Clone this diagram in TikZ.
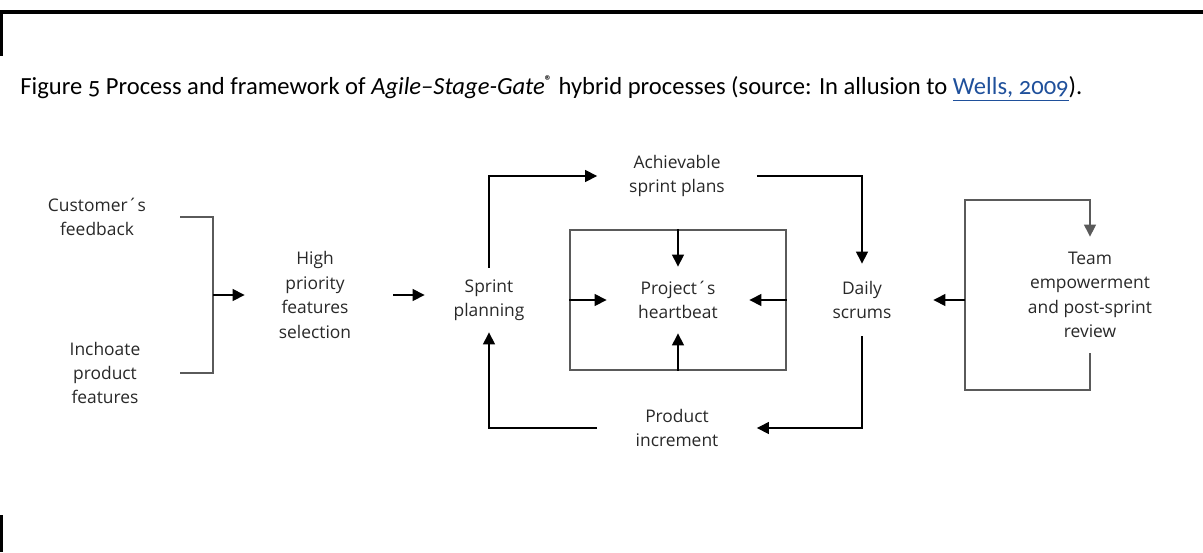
\documentclass[tikz,border=0pt]{standalone}
\usepackage{fontspec}
\setmainfont{Open Sans}
\newfontfamily\capfont[Numbers=OldStyle,Ligatures=TeX]{Carlito}
\usepackage{xcolor}
\usetikzlibrary{arrows.meta,positioning}
\definecolor{figInk}{RGB}{40,40,40}
\definecolor{figLine}{RGB}{90,90,90}
\definecolor{figLink}{RGB}{31,80,155}
\tikzset{
  figlabel/.style={font=\fontsize{8.7}{12.2}\selectfont,text=figInk,align=center,inner sep=0pt},
  figframe/.style={draw=figLine,line width=0.6pt},
  figflow/.style={-{Triangle[length=6pt,width=6pt]},draw=black,line width=0.6pt},
  figpage/.style={draw=black,line width=2pt},
}
\begin{document}
\begin{tikzpicture}[x=0.5pt,y=-0.5pt]
\useasboundingbox (0,0) rectangle (1203,552);

% Page rules.
\draw[figpage] (0,12) -- (1203,12);
\draw[figpage,line width=1.5pt] (1.5,12) -- (1.5,56);
\draw[figpage,line width=1.5pt] (1.5,515) -- (1.5,552);

% Caption.
\node[anchor=west,inner sep=0pt,font=\capfont\fontsize{12.3}{14}\selectfont] (caption) at (20,89)
  {Figure 5 Process and framework of \textit{Agile–Stage-Gate}\textsuperscript{\textbf{\scriptsize\textregistered}} hybrid processes (source: In allusion to \textcolor{figLink}{\underline{Wells, 2009}}).};

% Inputs and bracket.
\node[figlabel,minimum width=83pt] (cust) at (97,217) {Customer´s\\feedback};
\node[figlabel,minimum width=75pt] (inch) at (105,373) {Inchoate\\product\\features};
\node[figlabel,minimum width=70pt] (high) at (315,295) {High\\priority\\features\\selection};
\coordinate (brk) at (213,295);
\draw[figframe] (cust.east) -| (brk) |- (inch.east);
\draw[figflow] (brk) -- (high.west);

% Sprint cycle.
\node[figlabel,minimum width=64pt,minimum height=32pt] (sprint) at (489,300) {Sprint\\planning};
\node[figlabel,minimum width=79.5pt] (achv) at (677,176) {Achievable\\sprint plans};
\node[figlabel,minimum width=71pt,minimum height=36pt] (daily) at (862,300) {Daily\\scrums};
\node[figlabel,minimum width=79.5pt] (prod) at (677,428) {Product\\increment};
\draw[figflow,shorten <=4pt] (high.east) -- (high.east -| sprint.west);
\draw[figflow] (sprint.north) |- (achv.west);
\draw[figflow] (achv.east) -| (daily.north);
\draw[figflow] (daily.south) |- (prod.east);
\draw[figflow] (prod.west) -| (sprint.south);

% Heartbeat box.
\node[figframe,minimum width=108pt,minimum height=70pt,inner sep=0pt] (hbox) at (678,300) {};
\node[figlabel,minimum width=71pt,minimum height=33pt] (heart) at (678,300) {Project´s\\heartbeat};
\draw[figflow] (hbox.north) -- (heart.north);
\draw[figflow] (hbox.south) -- (heart.south);
\draw[figflow] (hbox.west) -- (heart.west);
\draw[figflow] (hbox.east) -- (heart.east);

% Team loop.
\node[figlabel,minimum width=75pt,minimum height=58pt] (team) at (1090,295) {Team\\empowerment\\and post-sprint\\review};
\coordinate (loopB) at (965,390);
\coordinate (loopT) at (965,200);
\coordinate (loopL) at (965,300);
\draw[figflow,draw=figLine] (team.south) |- (loopB) -- (loopT) -| (team.north);
\draw[figflow] (loopL) -- (daily.east);
\end{tikzpicture}
\end{document}
